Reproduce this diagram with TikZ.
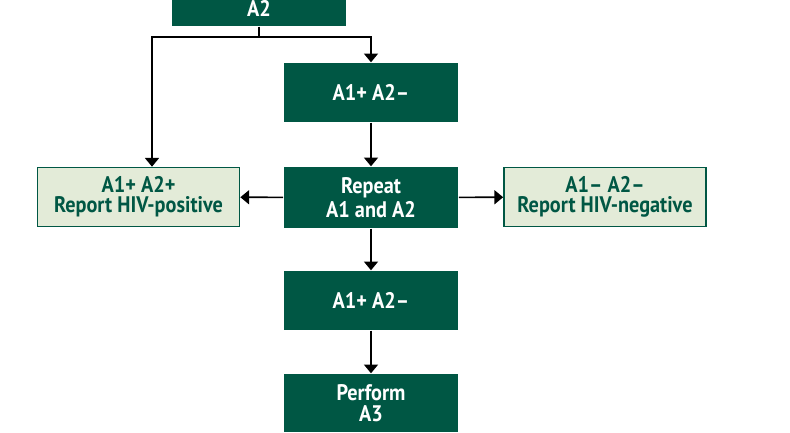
\documentclass[tikz,border=0pt]{standalone}
\usepackage{fontspec}
\setmainfont{PT Sans}[FakeStretch=0.9]
\usetikzlibrary{arrows.meta}

\definecolor{dunkelgruen}{RGB}{0,87,68}
\definecolor{hellgruen}{RGB}{227,235,216}

\tikzset{
	schritt/.style={fill=dunkelgruen, text=white, minimum width=1.74cm,
		minimum height=0.59cm, inner sep=0pt, align=center,
		font=\fontsize{6.4}{5.8}\selectfont\bfseries},
	ergebnis/.style={fill=hellgruen, draw=dunkelgruen, line width=0.45pt,
		text=dunkelgruen, minimum width=2.02cm, minimum height=0.59cm,
		inner sep=0pt, align=center, font=\fontsize{6.4}{5.8}\selectfont\bfseries},
	pfeil/.style={line width=0.45pt, -{Triangle[width=4pt, length=2.5pt]}}
}

\begin{document}
\begin{tikzpicture}[x=0.01cm, y=-0.01cm]
	\useasboundingbox (0,0) rectangle (790,432);
	% Kaesten Mitte
	\node[schritt, minimum height=0.36cm] (atwo) at (259,8) {A2};
	\node[schritt] (erst) at (371,92.5) {A1+ A2--};
	\node[schritt, minimum height=0.61cm] (wdh) at (371,197.5) {Repeat\\A1 and A2};
	\node[schritt] (zweit) at (371,300.5) {A1+ A2--};
	\node[schritt, minimum height=0.58cm] (dritt) at (371,403) {Perform\\A3};
	% Ergebnisse
	\node[ergebnis] (pos) at (138.5,197) {A1+ A2+\\Report HIV-positive};
	\node[ergebnis] (neg) at (605,197) {A1-- A2--\\Report HIV-negative};
	% Verbindungen
	\coordinate (verz) at (259,37);
	\coordinate (links) at (152,37);
	\draw[line width=0.45pt] (atwo.south) -- (verz);
	\draw[pfeil] (verz) -| (erst.north);
	\draw[pfeil] (verz) -- (links) -- (links |- pos.north);
	\draw[pfeil] (erst) -- (wdh);
	\draw[pfeil] (wdh) -- (pos);
	\draw[pfeil] (wdh) -- (neg);
	\draw[pfeil] (wdh) -- (zweit);
	\draw[pfeil] (zweit) -- (dritt);
\end{tikzpicture}
\end{document}
